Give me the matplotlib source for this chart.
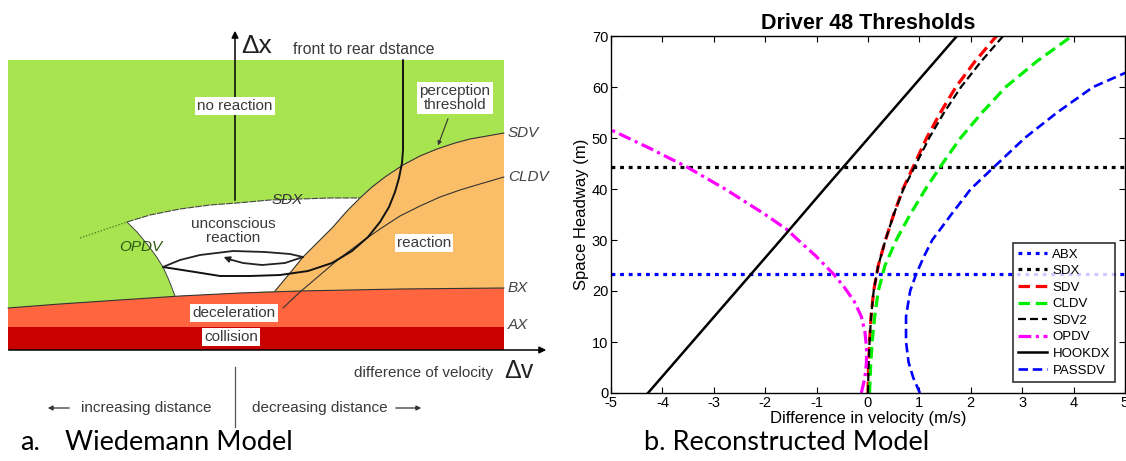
import numpy as np
import matplotlib
matplotlib.use("Agg")
import matplotlib.pyplot as plt
from matplotlib.patches import Polygon, Rectangle

W, H = 1126, 461

# ---------------- b. reconstructed model
abx_headway = 23.4
sdx_headway = 44.3

sdv_h = [0, 5, 10, 15, 20, 25, 30, 35, 40, 45, 50, 55, 60, 65, 70]
sdv_v = [0.0, 0.01, 0.03, 0.06, 0.11, 0.20, 0.34, 0.50, 0.68, 0.91, 1.14, 1.41, 1.71, 2.08, 2.50]

sdv2_h = [0, 5, 10, 15, 20, 25, 30, 35, 40, 45, 50, 55, 60, 65, 70]
sdv2_v = [0.0, 0.01, 0.03, 0.06, 0.11, 0.20, 0.34, 0.50, 0.69, 0.94, 1.19, 1.48, 1.81, 2.20, 2.63]

cldv_h = [0, 5, 10, 15, 20, 25, 30, 35, 40, 45, 50, 55, 60, 65, 70]
cldv_v = [0.03, 0.05, 0.08, 0.13, 0.20, 0.33, 0.55, 0.82, 1.12, 1.45, 1.80, 2.22, 2.68, 3.28, 3.97]

opdv_h = [0, 3, 6, 9, 12, 15, 18, 21, 23.4, 27, 30, 32, 35, 40, 44.3, 48, 51.6]
opdv_v = [-0.13, -0.06, -0.03, -0.03, -0.06, -0.13, -0.27, -0.48, -0.68, -1.03,
          -1.36, -1.57, -2.0, -2.78, -3.52, -4.25, -5.0]

hook_h = [0, 10, 20, 30, 40, 50, 60, 70]
hook_v = [-4.28, -3.42, -2.56, -1.70, -0.85, 0.01, 0.87, 1.73]

pass_h = [0, 3, 6, 10, 15, 20, 23.4, 27, 30, 35, 40, 44.3, 50, 55, 60, 62.7, 66]
pass_v = [1.01, 0.88, 0.79, 0.74, 0.74, 0.82, 0.94, 1.10, 1.25, 1.62, 2.00, 2.45,
          3.05, 3.68, 4.38, 4.99, 5.6]

x_ticks = [-5, -4, -3, -2, -1, 0, 1, 2, 3, 4, 5]
y_ticks = [0, 10, 20, 30, 40, 50, 60, 70]

# ---------------- a. Wiedemann diagram outline (pixel coords of the sketch)
bx_line = [(8, 308), (60, 304), (120, 300), (180, 296), (240, 293), (300, 291), (400, 289), (504, 288)]
sdv_edge = [(275, 291), (290, 273), (303, 257), (318, 242), (333, 227), (347, 211), (360, 198),
            (372, 187), (385, 177), (403, 165), (420, 156), (437, 149), (455, 143), (470, 139),
            (487, 136), (504, 133)]
sdx_edge = [(127, 222), (150, 215), (180, 209), (210, 205), (237, 203), (270, 200), (300, 199),
            (330, 198), (360, 198)]
opdv_edge = [(127, 222), (137, 232), (147, 244), (156, 256), (163, 267), (168, 278), (172, 288), (175, 296)]
cldv_edge = [(283, 308), (300, 292), (320, 275), (340, 258), (360, 243), (380, 229), (400, 216),
             (420, 206), (440, 197), (460, 190), (480, 184), (504, 177)]
hook_path = [(403, 60), (403, 150), (402, 163), (399, 178), (395, 192), (389, 207), (380, 222),
             (368, 237), (352, 251), (332, 263), (308, 271), (280, 275), (250, 276), (220, 276),
             (195, 272), (163, 267)]
loop_top = [(163, 267), (180, 260), (200, 255), (233, 251), (265, 252), (290, 254), (303, 257)]
loop_arrow = [(303, 257), (285, 263), (262, 265), (243, 263), (232, 260)]

green = "#a8e450"
orange = "#fbbe68"
decel = "#ff6640"
coll = "#c80000"
txt = "#3a3a3a"

plt.rcParams["font.family"] = ["Liberation Sans", "DejaVu Sans"]
plt.rcParams["axes.unicode_minus"] = False
fig = plt.figure(figsize=(W / 100, H / 100), dpi=100)

# ================= left: diagram
ax0 = fig.add_axes([0, 0, 560 / W, 1])
ax0.set_xlim(0, 560)
ax0.set_ylim(H, 0)
ax0.axis("off")

ax0.add_patch(Rectangle((8, 60), 496, 290, fc=green, ec="none"))
white = sdx_edge + sdv_edge[:7][::-1] + [p for p in bx_line[::-1] if 175 < p[0] < 275] + opdv_edge[::-1]
ax0.add_patch(Polygon(white, closed=True, fc="white", ec="none"))
orange_poly = sdv_edge + [(504, 288)] + [p for p in bx_line[::-1] if p[0] > 275]
ax0.add_patch(Polygon(orange_poly, closed=True, fc=orange, ec="none"))
ax0.add_patch(Polygon(bx_line + [(504, 327), (8, 327)], closed=True, fc=decel, ec="none"))
ax0.add_patch(Rectangle((8, 327), 496, 23, fc=coll, ec="none"))

def line(pts, **kw):
    a = np.array(pts)
    ax0.plot(a[:, 0], a[:, 1], solid_capstyle="round", **kw)

line(bx_line, color="#333333", lw=0.8)
line(sdv_edge, color="#333333", lw=0.8)
line(sdx_edge, color="#444444", lw=0.8, ls=(0, (6, 1)))
line(opdv_edge, color="#444444", lw=0.7)
line(cldv_edge, color="#333333", lw=0.8)
line([(80, 238), (127, 222)], color="#3f7a20", lw=0.9, ls=(0, (1, 1.5)))
line(hook_path, color="#111111", lw=1.4)
line(loop_top, color="#222222", lw=1.3)
line(loop_arrow, color="#222222", lw=1.3)
ax0.annotate("", xy=(221, 256), xytext=(234, 261),
             arrowprops=dict(arrowstyle="-|>", color="#222222", lw=1.2, mutation_scale=9))
ax0.annotate("", xy=(437, 148), xytext=(449, 116),
             arrowprops=dict(arrowstyle="-|>", color="#333333", lw=0.8, mutation_scale=6))

# axes of the sketch
ax0.annotate("", xy=(235, 28), xytext=(235, 203),
             arrowprops=dict(arrowstyle="-|>", color="black", lw=1.1, mutation_scale=10))
ax0.annotate("", xy=(549, 350), xytext=(6, 350),
             arrowprops=dict(arrowstyle="-|>", color="black", lw=1.1, mutation_scale=10))

box = dict(boxstyle="square,pad=0.15", fc="white", ec="none")
fs = 11
ax0.text(241, 46, "\u0394x", fontsize=19, va="center", ha="left", color="#222222")
ax0.text(293, 50, "front to rear dstance", fontsize=11.3, va="center", color=txt)
ax0.text(235, 106, "no reaction", fontsize=fs, va="center", ha="center", color=txt, bbox=box)
ax0.text(455, 98, "perception\nthreshold", fontsize=fs, va="center", ha="center", color=txt,
         bbox=box, linespacing=0.95)
for lbl, yy in [("SDV", 133), ("CLDV", 177), ("BX", 288), ("AX", 325)]:
    ax0.text(508, yy, lbl, fontsize=fs, style="italic", va="center", ha="left", color="#444444")
ax0.text(287, 200, "SDX", fontsize=fs, style="italic", va="center", ha="center", color="#333333")
ax0.text(233, 231, "unconscious\nreaction", fontsize=fs, va="center", ha="center", color=txt,
         linespacing=0.95)
ax0.text(141, 247, "OPDV", fontsize=fs, style="italic", va="center", ha="center", color="#2e5a14")
ax0.text(424, 243, "reaction", fontsize=fs, va="center", ha="center", color=txt, bbox=box)
ax0.text(234, 313, "deceleration", fontsize=fs, va="center", ha="center", color=txt, bbox=box)
ax0.text(231, 337, "collision", fontsize=fs, va="center", ha="center", color=txt, bbox=box)
ax0.text(354, 373, "difference of velocity", fontsize=fs, va="center", ha="left", color=txt)
ax0.text(504, 371, "\u0394v", fontsize=18, va="center", ha="left", color="#222222")
ax0.plot([235, 235], [367, 427], color="#555555", lw=0.9)
ax0.annotate("", xy=(45, 408), xytext=(72, 408),
             arrowprops=dict(arrowstyle="-|>", color="#333333", lw=0.9, mutation_scale=7))
ax0.text(81, 408, "increasing distance", fontsize=fs, va="center", ha="left", color=txt)
ax0.text(252, 408, "decreasing distance", fontsize=fs, va="center", ha="left", color=txt)
ax0.annotate("", xy=(424, 408), xytext=(393, 408),
             arrowprops=dict(arrowstyle="-|>", color="#333333", lw=0.9, mutation_scale=7))

# ================= right: reconstructed thresholds
L, R, T, B = 611, 1125, 36, 393
ax = fig.add_axes([L / W, 1 - B / H, (R - L) / W, (B - T) / H])

ax.axhline(abx_headway, color="#0000ff", lw=2.3, ls=(0, (1.2, 1.5)), label="ABX")
ax.axhline(sdx_headway, color="black", lw=2.3, ls=(0, (1.2, 1.5)), label="SDX")
ax.plot(sdv_v, sdv_h, color="#ff0000", lw=2.3, ls=(0, (3.6, 1.8)), label="SDV")
ax.plot(cldv_v, cldv_h, color="#00ee00", lw=2.3, ls=(0, (3.6, 1.8)), label="CLDV")
ax.plot(sdv2_v, sdv2_h, color="black", lw=1.6, ls=(0, (3.6, 1.8)), label="SDV2")
ax.plot(opdv_v, opdv_h, color="#ff00ff", lw=2.3, ls=(0, (4, 1.4, 1, 1.4)), label="OPDV")
ax.plot(hook_v, hook_h, color="black", lw=1.8, label="HOOKDX")
ax.plot(pass_v, pass_h, color="#0000ff", lw=1.9, ls=(0, (3.6, 1.8)), label="PASSDV")

ax.set_xlim(-5, 5)
ax.set_ylim(0, 70)
ax.set_xticks(x_ticks)
ax.set_yticks(y_ticks)
ax.tick_params(direction="in", length=4, width=0.8, top=True, right=True, labelsize=10.5, pad=2)
for s in ax.spines.values():
    s.set_linewidth(1.0)
ax.set_title("Driver 48 Thresholds", fontsize=15.5, fontweight="bold", pad=5)
ax.set_xlabel("Difference in velocity (m/s)", fontsize=12, labelpad=1)
ax.set_ylabel("Space Headway (m)", fontsize=12, labelpad=2)

leg = ax.legend(loc="lower right", bbox_to_anchor=(0.981, 0.031), fontsize=9.5, frameon=True,
                fancybox=False, borderaxespad=0, handlelength=2.2, handletextpad=0.4,
                labelspacing=0.33, borderpad=0.4)
leg.get_frame().set_edgecolor("black")
leg.get_frame().set_linewidth(1.2)

# captions under both panels
fig.text(20 / W, 1 - 442 / H, "a.", fontsize=19.5, family="Lato", va="center")
fig.text(65 / W, 1 - 442 / H, "Wiedemann Model", fontsize=19.5, family="Lato", va="center")
fig.text(644 / W, 1 - 442 / H, "b. Reconstructed Model", fontsize=19.5, family="Lato", va="center")

fig.savefig("out.png", dpi=100)
